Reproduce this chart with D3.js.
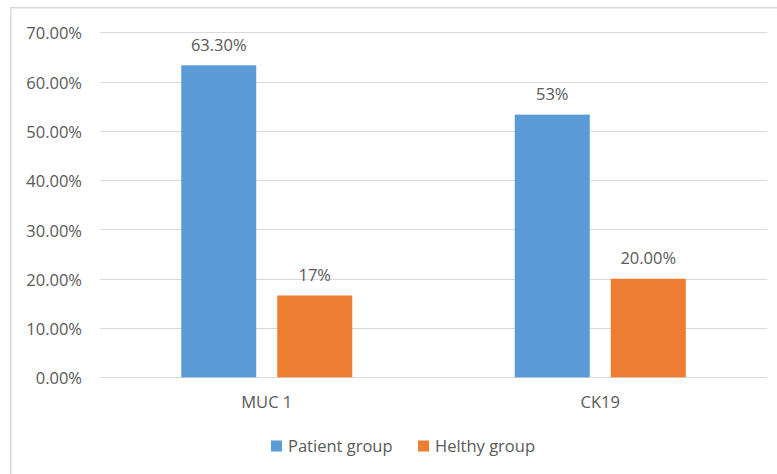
<!DOCTYPE html>
<html><head><meta charset="utf-8">
<script src="https://cdn.jsdelivr.net/npm/d3@7"></script>
<style>html,body{margin:0;padding:0;background:#fff;}svg{display:block;}</style>
</head><body>
<svg id="c" width="777" height="474"></svg>
<script>
const categories = ["MUC 1", "CK19"];
const seriesNames = ["Patient group", "Helthy group"];
const patientValues = [63.3, 53.3];
const healthyValues = [16.6, 20.0];
const patientLabels = ["63.30%", "53%"];
const healthyLabels = ["17%", "20.00%"];
const yTicks = [0, 10, 20, 30, 40, 50, 60, 70];
const colors = ["#5b9bd5", "#ed7d31"];

(function () {
const svg = d3.select("#c");
const font = "'Open Sans', 'Liberation Sans', Arial, sans-serif";
const fontSize = 16.5;
const textColor = "#595959";

// chart frame
svg.append("path").attr("d", "M10.75,480 V7.75 H790")
  .attr("fill", "none").attr("stroke", "#d9d9d9").attr("stroke-width", 1.5);

const plotLeft = 100, plotRight = 767, plotTop = 32.3, plotBottom = 377.3;
const x = d3.scaleBand().domain(categories).range([plotLeft, plotRight]);
const y = d3.scaleLinear().domain([0, 70]).range([plotBottom, plotTop]);
const barW = 75, innerGap = 21;

// gridlines
svg.append("g").selectAll("line").data(yTicks).join("line")
  .attr("x1", plotLeft).attr("x2", plotRight)
  .attr("y1", d => Math.round(y(d)) + 0.5).attr("y2", d => Math.round(y(d)) + 0.5)
  .attr("stroke", "#d9d9d9").attr("stroke-width", 1);

// y axis labels
const yAxis = d3.axisLeft(y).tickValues(yTicks).tickSize(0).tickPadding(0)
  .tickFormat(d => d.toFixed(2) + "%");
const ya = svg.append("g").attr("transform", "translate(82,0)").call(yAxis);
ya.select(".domain").remove();
ya.selectAll("text").attr("font-family", font).attr("font-size", fontSize).attr("fill", textColor)
  .attr("dy", "0.4em");

// x axis labels
const xAxis = d3.axisBottom(x).tickSize(0).tickPadding(0);
const xa = svg.append("g").attr("transform", "translate(0,396.5)").call(xAxis);
xa.select(".domain").remove();
xa.selectAll("text").attr("font-family", font).attr("font-size", fontSize).attr("fill", textColor);

const series = [
  {name: seriesNames[0], values: patientValues, labels: patientLabels, color: colors[0], off: -(barW + innerGap) / 2},
  {name: seriesNames[1], values: healthyValues, labels: healthyLabels, color: colors[1], off: (barW + innerGap) / 2}
];

series.forEach(s => {
  const g = svg.append("g");
  g.selectAll("rect").data(categories).join("rect")
    .attr("x", (c) => x(c) + x.bandwidth() / 2 + s.off - barW / 2)
    .attr("width", barW)
    .attr("y", (c, i) => y(s.values[i]))
    .attr("height", (c, i) => y(0) - y(s.values[i]))
    .attr("fill", s.color);
  g.selectAll("text").data(categories).join("text")
    .attr("x", (c) => x(c) + x.bandwidth() / 2 + s.off)
    .attr("y", (c, i) => y(s.values[i]) - 14.5)
    .attr("text-anchor", "middle")
    .attr("font-family", font).attr("font-size", fontSize).attr("fill", textColor)
    .text((c, i) => s.labels[i]);
});

// legend
const legendX = [271, 418];
const lg = svg.append("g");
series.forEach((s, i) => {
  lg.append("rect").attr("x", legendX[i]).attr("y", 440.5).attr("width", 11).attr("height", 11).attr("fill", s.color);
  lg.append("text").attr("x", legendX[i] + 17).attr("y", 451.5)
    .attr("font-family", font).attr("font-size", fontSize).attr("fill", textColor)
    .text(s.name);
});
})();
</script>
</body></html>
